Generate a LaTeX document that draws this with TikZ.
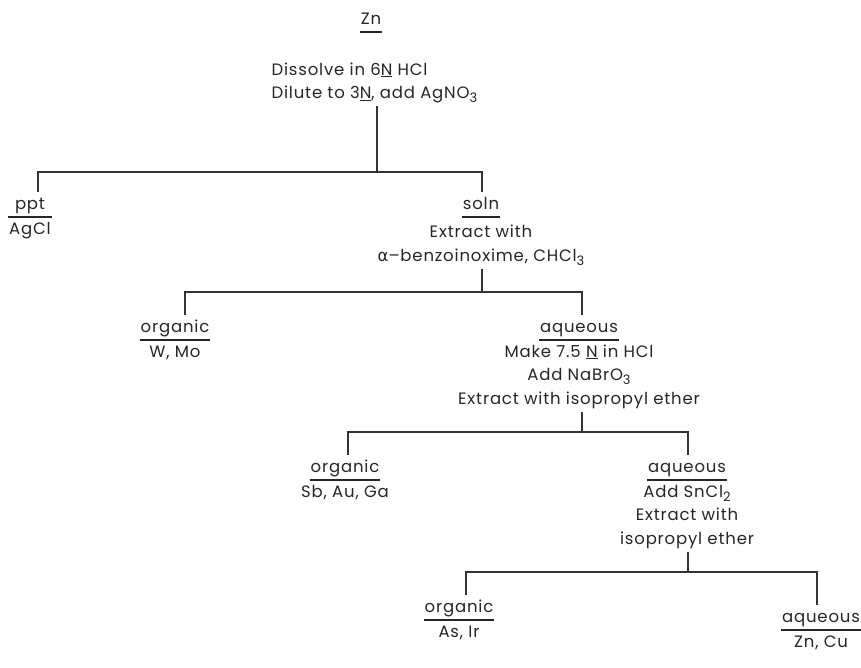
\documentclass[tikz,border=0pt]{standalone}
\usepackage{fontspec}
\setmainfont{Poppins}[LetterSpace=5.0]
\newfontfamily\grk{DejaVu Sans}
\setlength{\arrayrulewidth}{1.5pt}
\newcommand{\chsub}[1]{\raisebox{-0.45ex}{\fontsize{13}{13}\selectfont #1}}
\newcommand{\hd}[1]{\begin{tabular}[t]{@{\hspace{1pt}}c@{\hspace{1pt}}}#1\\\hline\end{tabular}}
\newcommand{\phase}[2]{\begin{tabular}[t]{@{\hspace{1pt}}c@{\hspace{1pt}}}#1\\\hline #2\end{tabular}}
\newcommand{\steps}[1]{\begin{tabular}[t]{@{}c@{}}#1\end{tabular}}
\begin{document}
\begin{tikzpicture}[x=1pt,y=-1pt,line width=1.5pt,draw=black!80,
    every node/.style={inner sep=0pt,anchor=base,text=black!85,
      font=\fontsize{16.5}{23.5}\selectfont}]
    \useasboundingbox (0,0) rectangle (861,667);
    % sample and first treatment
    \node (zn) at (371,24) {\hd{Zn}};
    \node[anchor=base east] (dissolve) at (478,75)
      {\begin{tabular}[t]{@{}l@{}}Dissolve in 6\underline{N} HCl\\Dilute to 3\underline{N}, add AgNO\chsub{3}\end{tabular}};
    % first split
    \node (ppt) at (30,209) {\phase{ppt}{AgCl}};
    \node (soln) at (481,209)
      {\steps{\hd{soln}\\[5pt]Extract with\\{\grk α}--benzoinoxime, CHCl\chsub{3}}};
    % second split
    \node (org1) at (175,332) {\phase{organic}{W, Mo}};
    \node (aq1) at (579,332)
      {\steps{\hd{aqueous}\\Make 7.5 \underline{N} in HCl\\Add NaBrO\chsub{3}\\Extract with isopropyl ether}};
    % third split
    \node (org2) at (345,472) {\steps{\hd{organic}\\Sb, Au, Ga}};
    \node (aq2) at (687,472)
      {\steps{\hd{aqueous}\\Add SnCl\chsub{2}\\Extract with\\isopropyl ether}};
    % fourth split
    \node (org3) at (459,612) {\phase{organic}{As, Ir}};
    \node (aq3) at (821,622) {\phase{aqueous}{Zn, Cu}};
    % junctions of the bars
    \coordinate (j0) at (377,172);
    \coordinate (b1l) at (38,172);
    \coordinate (b1r) at (482,172);
    \coordinate (b2l) at (185,292);
    \coordinate (b2r) at (582,292);
    \coordinate (b3l) at (348,432);
    \coordinate (b3r) at (688,432);
    \coordinate (b4l) at (466,572);
    \coordinate (b4r) at (817,572);
    \draw (dissolve.south -| j0) -- (j0);
    \draw (b1l |- ppt.north) -- (b1l) -- (b1r) -- (b1r |- soln.north);
    \draw (soln.south -| b1r) -- (b1r |- b2l);
    \draw (b2l |- org1.north) -- (b2l) -- (b2r) -- (b2r |- aq1.north);
    \draw (aq1.south -| b2r) -- (b2r |- b3l);
    \draw (b3l |- org2.north) -- (b3l) -- (b3r) -- (b3r |- aq2.north);
    \draw (aq2.south -| b3r) -- (b3r |- b4l);
    \draw (b4l |- org3.north) -- (b4l) -- (b4r) -- (b4r |- aq3.north);
\end{tikzpicture}
\end{document}
